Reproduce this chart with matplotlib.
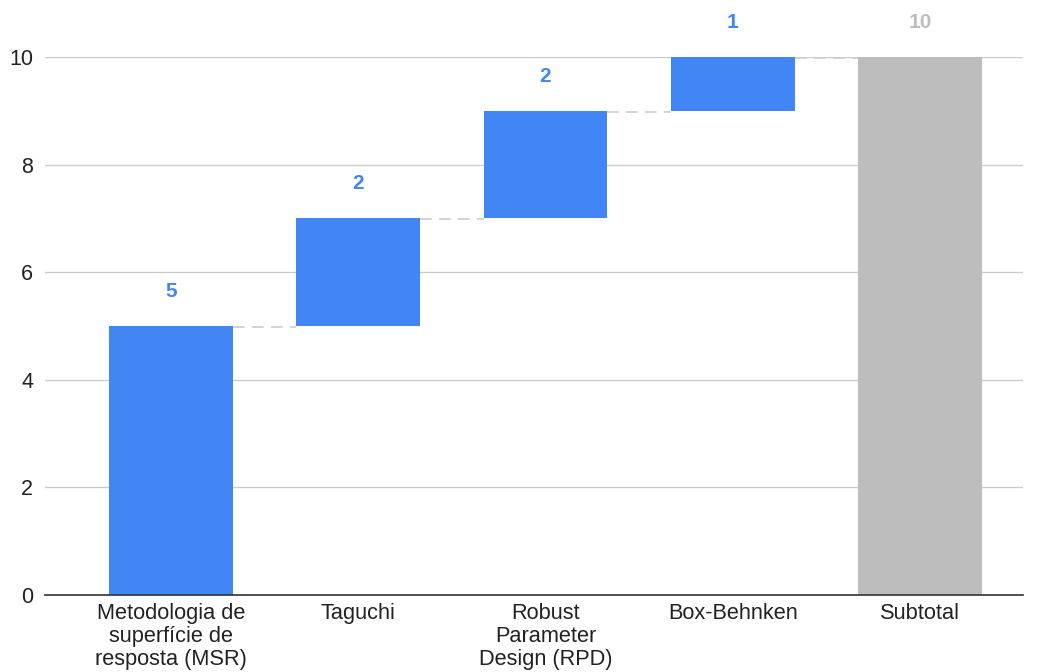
import matplotlib.pyplot as plt
import numpy as np

plt.rcParams['font.family'] = ['Liberation Sans', 'DejaVu Sans']

categories = ['Metodologia de\nsuperfície de\nresposta (MSR)', 'Taguchi',
              'Robust\nParameter\nDesign (RPD)', 'Box-Behnken', 'Subtotal']
steps = np.array([5, 2, 2, 1])
subtotal = 10

blue = '#4285F4'
grey = '#BDBDBD'

fig = plt.figure(figsize=(10.39, 6.72), dpi=100)
ax = fig.add_axes([0.0433, 0.1146, 0.9413, 0.8006])
ax.set_axisbelow(True)

x = np.arange(len(categories))
w = 0.66
bottoms = np.concatenate([[0], np.cumsum(steps)[:-1]])
tops = bottoms + steps

ax.bar(x[:-1], steps, w, bottom=bottoms, color=blue, zorder=3)
ax.bar(x[-1], subtotal, w, color=grey, zorder=3)

# dashed connectors between bars
for i in range(len(steps)):
    ax.plot([x[i] + w / 2, x[i + 1] - w / 2], [tops[i] - 0.02, tops[i] - 0.02],
            color='#D0D0D0', lw=1.3, dashes=(6.5, 4), zorder=2)

# value labels
for i in range(len(steps)):
    ax.annotate('%d' % steps[i], (x[i], tops[i]), xytext=(0, 25),
                textcoords='offset points', ha='center', va='center',
                fontsize=15, fontweight='bold', color=blue)
ax.annotate('%d' % subtotal, (x[-1], subtotal), xytext=(0, 25),
            textcoords='offset points', ha='center', va='center',
            fontsize=15, fontweight='bold', color=grey)

ax.set_xlim(-0.673, 4.55)
ax.set_ylim(0, 10)
ax.set_yticks([0, 2, 4, 6, 8, 10])
ax.set_xticks(x)
ax.set_xticklabels(categories, linespacing=1.1)
ax.tick_params(axis='both', length=0, labelsize=15.7, labelcolor='#222222')
ax.tick_params(axis='x', pad=6)
ax.tick_params(axis='y', labelsize=15.5, pad=8.5)
ax.grid(axis='y', color='#CCCCCC', lw=1)
for s in ['top', 'right', 'left']:
    ax.spines[s].set_visible(False)
ax.spines['bottom'].set_color('#333333')
ax.spines['bottom'].set_linewidth(1.2)
ax.spines['bottom'].set_zorder(4)

fig.savefig('out.png', dpi=100)
